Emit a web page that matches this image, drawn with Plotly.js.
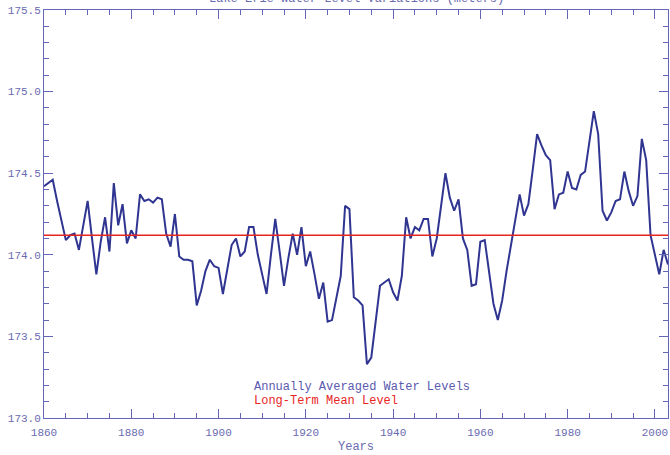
<!DOCTYPE html>
<html>
<head>
<meta charset="utf-8">
<script src="https://cdn.plot.ly/plotly-3.0.1.min.js"></script>
<style>html,body{margin:0;padding:0;background:#fff;}#chart{width:670px;height:455px;}</style>
</head>
<body>
<div id="chart"></div>
<script>
const years = [
1860,1861,1862,1863,1864,1865,1866,1867,1868,1869,
1870,1871,1872,1873,1874,1875,1876,1877,1878,1879,
1880,1881,1882,1883,1884,1885,1886,1887,1888,1889,
1890,1891,1892,1893,1894,1895,1896,1897,1898,1899,
1900,1901,1902,1903,1904,1905,1906,1907,1908,1909,
1910,1911,1912,1913,1914,1915,1916,1917,1918,1919,
1920,1921,1922,1923,1924,1925,1926,1927,1928,1929,
1930,1931,1932,1933,1934,1935,1936,1937,1938,1939,
1940,1941,1942,1943,1944,1945,1946,1947,1948,1949,
1950,1951,1952,1953,1954,1955,1956,1957,1958,1959,
1960,1961,1962,1963,1964,1965,1966,1967,1968,1969,
1970,1971,1972,1973,1974,1975,1976,1977,1978,1979,
1980,1981,1982,1983,1984,1985,1986,1987,1988,1989,
1990,1991,1992,1993,1994,1995,1996,1997,1998,1999,
2000,2001,2002,2003];

const waterLevels = [
174.42,174.44,174.46,174.33,174.20,174.09,174.12,174.13,174.03,174.17,
174.33,174.10,173.88,174.08,174.23,174.02,174.44,174.18,174.31,174.07,
174.15,174.10,174.37,174.33,174.34,174.32,174.35,174.34,174.13,174.05,
174.25,173.99,173.97,173.97,173.96,173.69,173.78,173.90,173.97,173.93,
173.92,173.76,173.90,174.06,174.10,173.99,174.02,174.17,174.17,174.00,
173.88,173.76,174.00,174.22,174.02,173.81,173.98,174.13,174.00,174.17,
173.93,174.02,173.88,173.73,173.83,173.59,173.60,173.73,173.87,174.30,
174.28,173.74,173.72,173.69,173.33,173.37,173.60,173.81,173.83,173.85,
173.77,173.72,173.87,174.23,174.10,174.17,174.15,174.22,174.22,173.99,
174.10,174.30,174.50,174.35,174.27,174.34,174.10,174.03,173.81,173.82,
174.08,174.09,173.90,173.70,173.60,173.72,173.90,174.05,174.22,174.37,
174.24,174.31,174.52,174.74,174.67,174.61,174.58,174.28,174.37,174.38,
174.51,174.41,174.40,174.49,174.51,174.71,174.88,174.74,174.27,174.21,
174.26,174.33,174.34,174.51,174.39,174.30,174.36,174.71,174.58,174.12,
174.00,173.88,174.03,173.94];

const meanLevel = 174.12;
const yTicks = [173.0, 173.5, 174.0, 174.5, 175.0, 175.5];
const xTicks = [1860, 1880, 1900, 1920, 1940, 1960, 1980, 2000];
const titleText = "Lake Erie Water Level Variations (meters)";
const legendLabels = ["Annually Averaged Water Levels", "Long-Term Mean Level"];
const xTitle = "Years";

const axisColor = "#6666b8";
const textColor = "#6a6ab0";
const fontFam = "Liberation Mono, DejaVu Sans Mono, monospace";

const traces = [
  {x: years, y: waterLevels, type: "scatter", mode: "lines",
   line: {color: "#2f3590", width: 2}, hoverinfo: "skip"},
  {x: [years[0], years[years.length - 1]], y: [meanLevel, meanLevel], type: "scatter", mode: "lines",
   line: {color: "#e8241f", width: 1.5}, hoverinfo: "skip"}
];

const axisCommon = {
  showline: true, linecolor: axisColor, linewidth: 1, mirror: "allticks",
  ticks: "inside", ticklen: 9, tickwidth: 1, tickcolor: axisColor,
  showgrid: false, zeroline: false,
  tickfont: {family: fontFam, size: 11, color: textColor}
};

const layout = {
  width: 670, height: 455,
  margin: {l: 44, r: 2, t: 10, b: 37},
  paper_bgcolor: "#ffffff", plot_bgcolor: "#ffffff",
  showlegend: false,
  xaxis: Object.assign({}, axisCommon, {
    range: [1860, 2003], tickvals: xTicks, ticktext: xTicks.map(String),
    ticklabelstandoff: 4,
    minor: {dtick: 5, tick0: 1860, ticks: "inside", ticklen: 5, tickcolor: axisColor, showgrid: false},
    title: {text: xTitle, font: {family: fontFam, size: 12, color: textColor}, standoff: 3}
  }),
  yaxis: Object.assign({}, axisCommon, {
    range: [173.0, 175.5], tickvals: yTicks, ticktext: yTicks.map(v => v.toFixed(1)),
    minor: {dtick: 0.1, tick0: 173.0, ticks: "inside", ticklen: 5, tickcolor: axisColor, showgrid: false}
  }),
  annotations: [
    {text: titleText, xref: "paper", yref: "paper", x: 0.5, y: 1.005, xanchor: "center", yanchor: "bottom",
     showarrow: false, font: {family: fontFam, size: 12, color: textColor}},
    {text: legendLabels[0], xref: "paper", yref: "paper", x: (252 - 44) / 624, y: (418 - 387) / 408,
     xanchor: "left", yanchor: "middle", showarrow: false,
     font: {family: fontFam, size: 12, color: "#5a5ab0"}},
    {text: legendLabels[1], xref: "paper", yref: "paper", x: (252 - 44) / 624, y: (418 - 401) / 408,
     xanchor: "left", yanchor: "middle", showarrow: false,
     font: {family: fontFam, size: 12, color: "#e8241f"}}
  ]
};

Plotly.newPlot("chart", traces, layout, {displayModeBar: false, staticPlot: true});
</script>
</body>
</html>
